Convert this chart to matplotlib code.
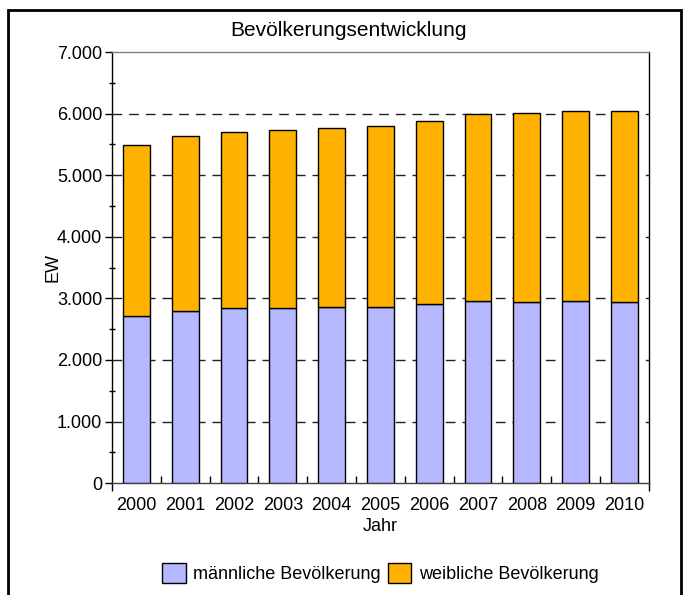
import matplotlib
matplotlib.use('Agg')
import matplotlib.pyplot as plt
import numpy as np
from matplotlib.patches import Rectangle
from matplotlib.ticker import FuncFormatter


YEARS = ['2000', '2001', '2002', '2003', '2004', '2005',
         '2006', '2007', '2008', '2009', '2010']
TOTAL = [5484, 5630, 5695, 5728, 5766, 5804, 5886, 5993, 6010, 6037, 6042]
MALE = [2713, 2795, 2843, 2848, 2853, 2865, 2909, 2957, 2941, 2962, 2935]
FEMALE = [t - m for t, m in zip(TOTAL, MALE)]

MALE_COLOR = '#b6b8ff'
FEMALE_COLOR = '#ffb300'

plt.rcParams['font.family'] = ['Liberation Sans', 'DejaVu Sans']


def thousands(v, pos):
    # german style thousands separator
    return '{:,.0f}'.format(v).replace(',', '.')


fig = plt.figure(figsize=(6.83, 5.95), dpi=100)
ax = fig.add_axes([0.164, 0.188, 0.786, 0.7246])

x = np.arange(len(YEARS))
ax.bar(x, MALE, width=0.55, color=MALE_COLOR, edgecolor='black',
       linewidth=1, zorder=3, label='männliche Bevölkerung')
ax.bar(x, FEMALE, width=0.55, bottom=MALE, color=FEMALE_COLOR,
       edgecolor='black', linewidth=1, zorder=3,
       label='weibliche Bevölkerung')

ax.set_xlim(-0.5, len(YEARS) - 0.5)
ax.set_ylim(0, 7000)

# dashed grid at each 1000 (not the top)
for v in range(1000, 7000, 1000):
    ax.axhline(v, color='#222222', linewidth=1, dashes=(7, 5), zorder=1)

# y axis ticks
ax.set_yticks(range(0, 7001, 1000))
ax.set_yticks(range(500, 7000, 1000), minor=True)
ax.yaxis.set_major_formatter(FuncFormatter(thousands))
ax.tick_params(axis='y', which='major', direction='out', length=5,
               width=1, labelsize=13, pad=2)
ax.tick_params(axis='y', which='minor', direction='inout', length=5,
               width=1)

# x axis: ticks at category borders, labels at centers
ax.set_xticks(np.arange(0.5, len(YEARS) - 1, 1.0))
ax.set_xticklabels([])
ax.tick_params(axis='x', which='major', direction='in', length=5,
               width=1)
ax.set_xticks(x, minor=True)
ax.set_xticklabels(YEARS, minor=True)
ax.tick_params(axis='x', which='minor', length=0, labelsize=13, pad=10)

# outer ticks at both ends of the x axis
sec = ax.secondary_xaxis('bottom')
sec.set_xticks([-0.5, len(YEARS) - 0.5])
sec.set_xticklabels([])
sec.tick_params(direction='out', length=6, width=1)
sec.spines['bottom'].set_visible(False)

ax.spines['top'].set_color('#808080')
ax.spines['bottom'].set_color('#404040')
for s in ax.spines.values():
    s.set_linewidth(1)

ax.set_xlabel('Jahr', fontsize=13, labelpad=3)
ax.set_ylabel('EW', fontsize=13)
ax.yaxis.set_label_coords(-0.094, 0.5)

fig.text(0.51, 0.949, 'Bevölkerungsentwicklung', ha='center', va='center',
         fontsize=15)

ax.legend(loc='upper center', bbox_to_anchor=(0.5, -0.148), ncol=2,
          frameon=False, fontsize=13, handlelength=1.3, handleheight=1.3,
          handletextpad=0.4, columnspacing=0.4)

# outer frame of the picture
fig.patches.append(Rectangle((8 / 683, -0.05), 673 / 683, 1.05 - 10 / 595,
                             transform=fig.transFigure, fill=False,
                             edgecolor='black', linewidth=2))

fig.savefig('out.png', dpi=100)
